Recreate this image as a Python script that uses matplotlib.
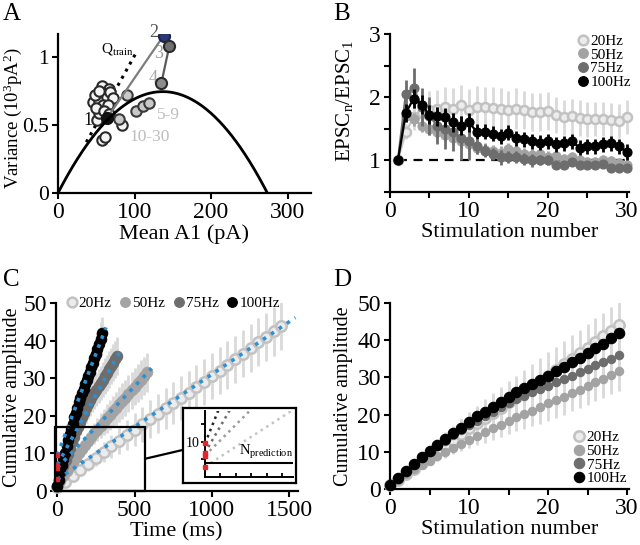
import numpy as np
import matplotlib
matplotlib.use("Agg")
import matplotlib.pyplot as plt
from matplotlib.lines import Line2D
from matplotlib.patches import Rectangle, ConnectionPatch

plt.rcParams['font.family'] = ['Liberation Serif', 'DejaVu Serif']
plt.rcParams['mathtext.fontset'] = 'custom'
plt.rcParams['mathtext.rm'] = 'Liberation Serif'
plt.rcParams['mathtext.it'] = 'Liberation Serif:italic'
plt.rcParams['mathtext.bf'] = 'Liberation Serif:bold'

# ---------------- Panel A data ----------------
a_fit_q = 10.9          # pA (parabola fit)
a_fit_N = 25.1
a_fit_max = 274
q_train = 10.1
q_train_range = [37, 103]
a_mean_seq = [64, 138, 145.5, 135]        # stimuli 1-4
a_var_seq = [0.55, 1.157, 1.081, 0.806]
a_mean_5_9 = [89.8, 102, 110.7, 119.3, 80.1]
a_var_5_9 = [0.72, 0.603, 0.64, 0.664, 0.542]
a_mean_10_30 = [57.1, 67.1, 59.2, 50.6, 46.2, 54.0, 63.6, 68.0, 72.3, 48.4, 58.4,
                65.8, 50.6, 57.1, 61.4, 83.3, 54.0, 49.7, 60.0, 66.0, 53.0]
a_var_10_30 = [0.787, 0.762, 0.733, 0.708, 0.671, 0.679, 0.708, 0.745, 0.696, 0.721, 0.647,
               0.647, 0.537, 0.39, 0.414, 0.5, 0.586, 0.623, 0.60, 0.58, 0.75]

# ---------------- Panel B data ----------------
freqs = [20, 50, 75, 100]
freq_labels = ['20Hz', '50Hz', '75Hz', '100Hz']
stim = np.arange(1, 31)
b20 = [1.0, 1.45, 1.68, 1.75, 1.80, 1.82, 1.84, 1.82, 1.87, 1.80, 1.85, 1.84, 1.83, 1.82, 1.80,
       1.82, 1.80, 1.77, 1.76, 1.78, 1.72, 1.68, 1.70, 1.67, 1.65, 1.66, 1.66, 1.64, 1.63, 1.68]
b50 = [1.0, 1.70, 1.65, 1.55, 1.50, 1.45, 1.40, 1.35, 1.30, 1.25, 1.20, 1.17, 1.14, 1.12, 1.18,
       1.15, 1.10, 1.08, 1.10, 1.05, 1.06, 1.02, 1.05, 1.00, 0.97, 0.97, 1.00, 0.98, 0.95, 0.92]
b75 = [1.0, 2.05, 2.15, 1.85, 1.70, 1.55, 1.50, 1.45, 1.35, 1.30, 1.22, 1.15, 1.10, 1.05, 1.05,
       1.05, 1.02, 1.00, 1.00, 1.00, 0.92, 0.92, 0.97, 0.92, 0.92, 0.92, 0.94, 0.88, 0.88, 0.88]
b100 = [1.0, 1.75, 1.98, 1.88, 1.72, 1.70, 1.68, 1.60, 1.55, 1.60, 1.45, 1.45, 1.42, 1.38, 1.44,
        1.35, 1.33, 1.30, 1.28, 1.30, 1.25, 1.27, 1.30, 1.20, 1.22, 1.22, 1.25, 1.27, 1.22, 1.13]
b20_err = [0, 0.12, 0.2, 0.25, 0.3, 0.3, 0.32, 0.32, 0.33, 0.33, 0.33, 0.32, 0.33, 0.33, 0.3,
           0.33, 0.3, 0.3, 0.3, 0.3, 0.28, 0.28, 0.28, 0.28, 0.28, 0.27, 0.27, 0.27, 0.27, 0.27]
b50_err = [0, 0.1, 0.1, 0.1, 0.1, 0.1, 0.1, 0.1, 0.1, 0.1, 0.1, 0.1, 0.1, 0.1, 0.1,
           0.1, 0.1, 0.1, 0.1, 0.1, 0.08, 0.08, 0.08, 0.08, 0.08, 0.08, 0.08, 0.08, 0.08, 0.08]
b75_err = [0, 0.22, 0.32, 0.3, 0.3, 0.3, 0.32, 0.3, 0.35, 0.3, 0.12, 0.1, 0.1, 0.12, 0.1,
           0.1, 0.1, 0.1, 0.08, 0.08, 0.06, 0.06, 0.06, 0.06, 0.06, 0.06, 0.06, 0.06, 0.06, 0.06]
b100_err = [0, 0.15, 0.15, 0.15, 0.15, 0.15, 0.15, 0.15, 0.15, 0.15, 0.12, 0.12, 0.12, 0.12, 0.12,
            0.12, 0.12, 0.12, 0.12, 0.12, 0.12, 0.12, 0.12, 0.12, 0.12, 0.12, 0.12, 0.12, 0.12, 0.12]

# ---------------- Panels C/D data (cumulative amplitude) ----------------
cum_index = np.arange(30)
cum20 = [1.0, 2.4, 3.9, 5.5, 7.1, 8.7, 10.3, 11.8, 13.3, 14.8, 16.3, 17.7, 19.1, 20.5, 21.9,
         23.3, 24.7, 26.1, 27.5, 29.0, 30.5, 32.0, 33.5, 35.0, 36.5, 38.0, 39.5, 41.0, 42.5, 44.0]
cum50 = [1.0, 2.5, 4.0, 5.3, 6.5, 7.6, 8.8, 10.0, 11.1, 12.2, 13.3, 14.3, 15.3, 16.3, 17.3,
         18.3, 19.3, 20.2, 21.1, 22.0, 23.0, 23.9, 24.8, 25.8, 26.7, 27.7, 28.7, 29.6, 30.6, 31.6]
cum75 = [1.2, 2.9, 4.9, 6.7, 8.3, 9.9, 11.5, 13.0, 14.4, 15.8, 17.1, 18.4, 19.6, 20.8, 22.0,
         23.1, 24.1, 25.1, 26.0, 26.9, 27.8, 28.7, 29.6, 30.5, 31.4, 32.3, 33.2, 34.1, 35.0, 35.9]
cum100 = [1.2, 2.9, 4.9, 6.8, 8.5, 10.1, 11.9, 13.4, 15.0, 16.5, 17.9, 19.5, 20.8, 22.1, 23.5,
          24.8, 26.0, 27.2, 28.3, 29.4, 30.5, 31.7, 32.9, 34.1, 35.3, 36.5, 37.8, 39.1, 40.5, 41.9]
cum20_err = [0.3, 0.6, 1.0, 1.4, 1.8, 2.2, 2.7, 3.1, 3.5, 4.0, 4.4, 4.7, 5.0, 5.2, 5.4,
             5.6, 5.8, 5.9, 6.0, 6.1, 6.2, 6.2, 6.3, 6.3, 6.3, 6.4, 6.4, 6.4, 6.5, 6.5]
cum50_err = [0.2, 0.4, 0.6, 0.8, 1.0, 1.2, 1.4, 1.6, 1.8, 2.0, 2.2, 2.5, 2.8, 3.0, 3.3,
             3.5, 3.8, 4.0, 4.2, 4.4, 4.6, 4.7, 4.8, 4.9, 5.0, 5.0, 5.1, 5.1, 5.1, 5.2]
cum75_err = [0.2, 0.5, 0.8, 1.1, 1.4, 1.7, 2.0, 2.3, 2.6, 2.9, 3.1, 3.3, 3.5, 3.7, 3.9,
             4.0, 4.1, 4.2, 4.3, 4.4, 4.5, 4.6, 4.7, 4.8, 4.8, 4.9, 4.9, 5.0, 5.0, 5.0]
cum100_err = [0.2, 0.4, 0.6, 0.8, 1.0, 1.2, 1.4, 1.6, 1.8, 2.0, 2.2, 2.4, 2.6, 2.8, 3.0,
              3.1, 3.2, 3.3, 3.4, 3.5, 3.6, 3.7, 3.8, 3.9, 4.0, 4.1, 4.2, 4.3, 4.4, 4.5]

# linear fits in panel C
fit_intercept = [3.0, 6.1, 6.9, 9.5]
fit_slope = [0.028, 0.0434, 0.0746, 0.108]     # per ms
fit_end = [1540, 610, 400, 315]                # ms
n_prediction = 4.1
zoom_t = [-15, 567]
zoom_v = [0, 17]

# ---------------- styles ----------------
face = {20: '#ececec', 50: '#a3a3a3', 75: '#6d6d6d', 100: '#000000'}
edge = {20: '#c2c2c2', 50: '#a3a3a3', 75: '#6d6d6d', 100: '#000000'}
linec = {20: '#c8c8c8', 50: '#a3a3a3', 75: '#6d6d6d', 100: '#000000'}
errc = '#d9d9d9'
blue = '#2e8fd3'
red = '#e3262e'
TICK = 17
LAB = 16

b_vals = {20: b20, 50: b50, 75: b75, 100: b100}
b_errs = {20: b20_err, 50: b50_err, 75: b75_err, 100: b100_err}
cum_vals = {20: cum20, 50: cum50, 75: cum75, 100: cum100}
cum_errs = {20: cum20_err, 50: cum50_err, 75: cum75_err, 100: cum100_err}

W, H = 640, 545
fig = plt.figure(figsize=(W / 100, H / 100), dpi=100)


def px_axes(l, r, t, b):
    return fig.add_axes([l / W, 1 - b / H, (r - l) / W, (b - t) / H])


def style(ax):
    for s in ['top', 'right']:
        ax.spines[s].set_visible(False)
    for s in ['left', 'bottom']:
        ax.spines[s].set_linewidth(1.6)
    ax.tick_params(which='both', direction='out', length=4.5, width=1.5,
                   labelsize=TICK, pad=2)


def handles(ms):
    hs = []
    for f in freqs:
        hs.append(Line2D([], [], ls='none', marker='o', ms=ms, mfc=face[f], mec=edge[f],
                         mew=1.8 if f == 20 else 0.8))
    return hs


# ================= Panel A =================
axA = px_axes(58, 310.5, 33.9, 193)
style(axA)
mu = np.linspace(0, a_fit_max, 300)
axA.plot(mu, (a_fit_q * mu - mu ** 2 / a_fit_N) / 1000, color='black', lw=2.0, zorder=5)
qx = np.array(q_train_range)
axA.plot(qx, q_train * qx / 1000, color='black', ls=':', lw=2.2, zorder=2)
axA.plot(a_mean_10_30, a_var_10_30, ls='none', marker='o', ms=7.5, mfc='#f4f4f4', mec='#2a2a2a',
         mew=1.5, zorder=3)
axA.plot(a_mean_5_9, a_var_5_9, ls='none', marker='o', ms=7.5, mfc='#c9c9c9', mec='#3a3a3a',
         mew=1.5, zorder=3)
axA.plot(a_mean_seq[:2], a_var_seq[:2], color='#7d7d7d', lw=1.6, zorder=3.5)
axA.plot(a_mean_seq[1:], a_var_seq[1:], color='#5a5a5a', lw=1.6, zorder=3.5)
seq_face = ['#111111', '#2c3872', '#707070', '#8c8c8c']
seq_edge = ['#111111', '#1b2350', '#2a2a2a', '#2a2a2a']
for xm, yv, fc, ec in zip(a_mean_seq, a_var_seq, seq_face, seq_edge):
    axA.plot([xm], [yv], ls='none', marker='o', ms=8, mfc=fc, mec=ec, mew=1.5, zorder=4)
axA.text(33, 0.5, '1', fontsize=13, color='#111111')
axA.text(119, 1.15, '2', fontsize=13, color='#555555')
axA.text(126, 0.99, '3', fontsize=13, color='#9a9a9a')
axA.text(118, 0.81, '4', fontsize=13, color='#a8a8a8')
axA.text(129, 0.545, '5-9', fontsize=12.5, color='#bdbdbd')
axA.text(93, 0.385, '10-30', fontsize=12.5, color='#bdbdbd')
axA.text(56, 1.035, r'Q$_\mathrm{train}$', fontsize=11, color='black')
axA.set_xlim(0, 330)
axA.set_ylim(0, 1.17)
axA.set_xticks([0, 100, 200, 300])
axA.set_yticks([0, 0.5, 1])
axA.set_yticklabels(['0', '0.5', '1'])
axA.tick_params(axis='y', labelsize=15.5)
axA.set_xlabel('Mean A1 (pA)', fontsize=LAB, labelpad=1)
axA.set_ylabel(r'Variance (10$^{3}$pA$^{2}$)', fontsize=13.5)
axA.yaxis.set_label_coords(-0.133, 0.47)

# ================= Panel B =================
axB = px_axes(390, 628.5, 34.3, 191.7)
style(axB)
axB.plot([stim[0], stim[-1]], [1, 1], color='black', ls='--', lw=1.6, dashes=(4, 3), zorder=1)
for f in freqs:
    axB.errorbar(stim, b_vals[f], yerr=b_errs[f], fmt='-o', color=linec[f], ecolor=linec[f] if f != 20 else errc,
                 mfc=face[f], mec=edge[f], ms=6.5, mew=1.8 if f == 20 else 0.8, lw=1.6,
                 elinewidth=2.0, capsize=0, zorder=2 + freqs.index(f), clip_on=False)
axB.set_xlim(0, 30.2)
axB.set_ylim(0.5, 3)
axB.set_xticks([0, 10, 20, 30])
axB.set_xticks([5, 15, 25], minor=True)
axB.set_yticks([1, 2, 3])
axB.set_yticks([0.5, 1.5, 2.5], minor=True)
axB.set_xlabel('Stimulation number', fontsize=LAB, labelpad=1)
axB.set_ylabel(r'EPSC$_\mathrm{n}$/EPSC$_\mathrm{1}$', fontsize=15)
axB.yaxis.set_label_coords(-0.145, 0.58)
axB.legend(handles(7), freq_labels, loc='upper right', bbox_to_anchor=(1.01, 1.0), frameon=False,
           fontsize=11, handlelength=0.7, handletextpad=0.15, labelspacing=0.0, borderpad=0,
           borderaxespad=0)

# ================= Panel C =================
axC = px_axes(55.75, 297.7, 303, 490.7)
style(axC)
for f in freqs:
    tms = cum_index * 1000.0 / f
    axC.errorbar(tms, cum_vals[f], yerr=cum_errs[f], fmt='none', ecolor=errc, elinewidth=2.0,
                 capsize=0, zorder=1)
for f in freqs:
    tms = cum_index * 1000.0 / f
    axC.plot(tms, cum_vals[f], ls='none', marker='o', ms=7.5, mfc=face[f], mec=edge[f],
             mew=1.8 if f == 20 else 0.8, zorder=2 + freqs.index(f), clip_on=False)
for i, f in enumerate(freqs):
    tt = np.array([0, fit_end[i]])
    axC.plot(tt, fit_intercept[i] + fit_slope[i] * tt, color=blue, ls=':', lw=2.6, zorder=7)
axC.plot(np.zeros(len(fit_intercept)), fit_intercept, ls='none', marker='s', ms=3.5, color=red,
         zorder=8, clip_on=False)
axC.add_patch(Rectangle((zoom_t[0], zoom_v[0]), zoom_t[1] - zoom_t[0], zoom_v[1] - zoom_v[0],
                        fill=False, lw=1.6, ec='black', zorder=9, clip_on=False))
axC.set_xlim(-10, 1555)
axC.set_ylim(0, 50)
axC.set_xticks([0, 500, 1000, 1500])
axC.set_yticks([0, 10, 20, 30, 40, 50])
axC.set_xlabel('Time (ms)', fontsize=LAB, labelpad=1)
axC.set_ylabel('Cumulative amplitude', fontsize=14.5)
axC.yaxis.set_label_coords(-0.14, 0.5)
axC.legend(handles(7), freq_labels, loc='center left', bbox_to_anchor=(0.045, 1.0), frameon=False,
           fontsize=11, ncol=4, handlelength=0.7, handletextpad=0.1, columnspacing=0.55,
           borderpad=0, borderaxespad=0)

# inset frame and inset axes
frame = px_axes(182.7, 296, 408.3, 482.7)
frame.set_xticks([])
frame.set_yticks([])
for s in frame.spines.values():
    s.set_linewidth(1.6)
frame.set_zorder(10)
inset = px_axes(205, 293, 410.7, 477.3)
inset.set_zorder(11)
inset.patch.set_alpha(0)
for s in ['top', 'right']:
    inset.spines[s].set_visible(False)
for s in ['left', 'bottom']:
    inset.spines[s].set_linewidth(1.4)
inset_col = ['#c4c4c4', '#9a9a9a', '#6a6a6a', '#222222']
for i, f in enumerate(freqs):
    tt = np.array([0, 600])
    inset.plot(tt, fit_intercept[i] + fit_slope[i] * tt, color=inset_col[i], ls=':', lw=1.8)
inset.plot(np.zeros(len(fit_intercept)), fit_intercept, ls='none', marker='s', ms=3.5, color=red,
           clip_on=False, zorder=5)
inset.axhline(n_prediction, color='black', lw=1.5)
inset.text(0.995, n_prediction + 0.4, r'N$_\mathrm{prediction}$', transform=inset.get_yaxis_transform(),
           ha='right', va='bottom', fontsize=10.5)
inset.set_xlim(0, 569)
inset.set_ylim(0, 18.7)
inset.set_xticks([0, 100, 200, 300, 400, 500])
inset.set_xticklabels([])
inset.set_yticks([5, 10, 15])
inset.set_yticklabels(['', '10', ''])
inset.tick_params(axis='x', direction='in', length=3, width=1.3)
inset.tick_params(axis='y', direction='out', length=3, width=1.3, labelsize=10, pad=1)

con = ConnectionPatch(xyA=(zoom_t[1], np.mean(zoom_v)), coordsA='data', axesA=axC,
                      xyB=(0, 0.44), coordsB='axes fraction', axesB=frame, lw=1.6, color='black')
fig.add_artist(con)

# ================= Panel D =================
axD = px_axes(390, 629.4, 303, 489)
style(axD)
for f in freqs:
    axD.errorbar(cum_index, cum_vals[f], yerr=cum_errs[f], fmt='none', ecolor=errc, elinewidth=2.0,
                 capsize=0, zorder=1)
dms = {20: 7.5, 50: 6, 75: 6, 100: 7.5}
for f in freqs:
    axD.plot(cum_index, cum_vals[f], ls='none', marker='o', ms=dms[f], mfc=face[f], mec=edge[f],
             mew=1.8 if f == 20 else 0.8, zorder=2 + freqs.index(f), clip_on=False)
axD.set_xlim(0, 30.3)
axD.set_ylim(0, 50)
axD.set_xticks([0, 10, 20, 30])
axD.set_xticks([5, 15, 25], minor=True)
axD.set_yticks([0, 10, 20, 30, 40, 50])
axD.set_xlabel('Stimulation number', fontsize=LAB, labelpad=1)
axD.set_ylabel('Cumulative amplitude', fontsize=14.5)
axD.yaxis.set_label_coords(-0.155, 0.5)
axD.legend(handles(7.5), freq_labels, loc='lower right', bbox_to_anchor=(0.99, 0.02), frameon=False,
           fontsize=11, handlelength=0.7, handletextpad=0.15, labelspacing=0.0, borderpad=0,
           borderaxespad=0)

# panel letters
for lab, x, y in [('A', 3, 20), ('B', 333, 20), ('C', 3, 286), ('D', 333, 286)]:
    fig.text(x / W, 1 - y / H, lab, fontsize=18, va='baseline', ha='left')

fig.savefig('out.png', dpi=100)
